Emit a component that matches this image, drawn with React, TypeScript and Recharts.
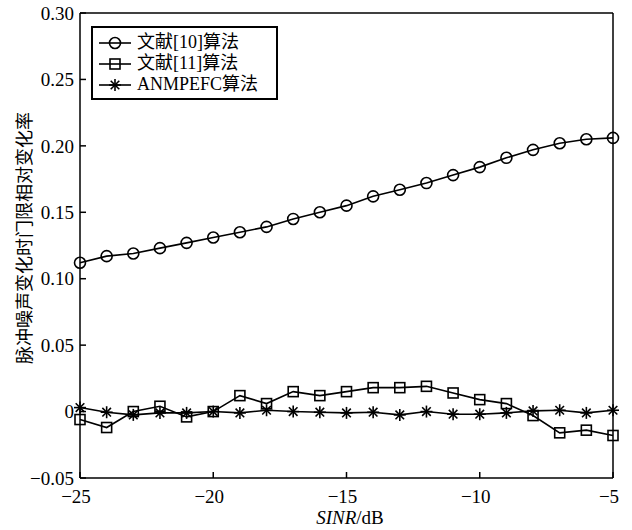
import React from 'react';
import { LineChart, Line, XAxis, YAxis, ReferenceLine } from 'recharts';

const snr = [-25, -24, -23, -22, -21, -20, -19, -18, -17, -16, -15, -14, -13, -12, -11, -10, -9, -8, -7, -6, -5];
const ref10 = [0.112, 0.117, 0.119, 0.123, 0.127, 0.131, 0.135, 0.139, 0.145, 0.150, 0.155, 0.162, 0.167, 0.172, 0.178, 0.184, 0.191, 0.197, 0.202, 0.205, 0.206];
const ref11 = [-0.006, -0.012, 0.000, 0.004, -0.004, 0.000, 0.012, 0.006, 0.015, 0.012, 0.015, 0.018, 0.018, 0.019, 0.014, 0.009, 0.006, -0.003, -0.016, -0.014, -0.018];
const anmpefc = [0.003, -0.0005, -0.0025, -0.001, -0.001, 0.000, -0.001, 0.001, 0.000, -0.0005, -0.001, -0.0005, -0.0025, 0.000, -0.002, -0.002, -0.001, 0.0005, 0.001, -0.001, 0.001];

const xTicks = [-25, -20, -15, -10, -5];
const yTicks = [-0.05, 0, 0.05, 0.1, 0.15, 0.2, 0.25, 0.3];
const seriesNames = ['文献[10]算法', '文献[11]算法', 'ANMPEFC算法'];

const data = snr.map((s, i) => ({ snr: s, a: ref10[i], b: ref11[i], c: anmpefc[i] }));

const FONT = '"Liberation Serif", "Noto Sans CJK SC", serif';
const CJK = '"Noto Sans CJK SC", sans-serif';

const fmtX = (v: number) => (v < 0 ? '\u2212' + Math.abs(v) : String(v));
const fmtY = (v: number) => {
  if (v === 0) return '0';
  const s = Math.abs(v).toFixed(2);
  return v < 0 ? '\u2212' + s : s;
};

const XTick = (props: any) => {
  const { x, y, payload } = props;
  return (
    <g>
      <line x1={x} y1={y} x2={x} y2={y - 6} stroke="#000" strokeWidth={1.5} />
      <text x={x - 4} y={y + 25} textAnchor="middle" fontFamily={FONT} fontSize={19} fill="#000">
        {fmtX(payload.value)}
      </text>
    </g>
  );
};

const YTick = (props: any) => {
  const { x, y, payload } = props;
  return (
    <g>
      <line x1={x} y1={y} x2={x + 6} y2={y} stroke="#000" strokeWidth={1.5} />
      <text x={x - 6} y={y} dy="0.35em" textAnchor="end" fontFamily={FONT} fontSize={19} fill="#000">
        {fmtY(payload.value)}
      </text>
    </g>
  );
};

const circleShape = (cx: number, cy: number, key?: any) => (
  <circle key={key} cx={cx} cy={cy} r={5.5} fill="none" stroke="#000" strokeWidth={1.6} />
);
const squareShape = (cx: number, cy: number, key?: any) => (
  <rect key={key} x={cx - 5} y={cy - 5} width={10} height={10} fill="none" stroke="#000" strokeWidth={1.6} />
);
const starShape = (cx: number, cy: number, key?: any) => (
  <g key={key} stroke="#000" strokeWidth={1.6}>
    <line x1={cx - 6} y1={cy} x2={cx + 6} y2={cy} />
    <line x1={cx} y1={cy - 6} x2={cx} y2={cy + 6} />
    <line x1={cx - 4.3} y1={cy - 4.3} x2={cx + 4.3} y2={cy + 4.3} />
    <line x1={cx - 4.3} y1={cy + 4.3} x2={cx + 4.3} y2={cy - 4.3} />
  </g>
);
const shapes = [circleShape, squareShape, starShape];

const makeDot = (fn: typeof circleShape) => (p: any) => fn(p.cx, p.cy, p.key ?? `${p.index}`);

// legend sits over the plot, outside recharts' layout so it takes no space
const LegendBox = () => (
  <div
    style={{
      position: 'absolute',
      left: 91,
      top: 26,
      border: '2px solid #000',
      background: '#fff',
      width: 187,
      height: 74,
      boxSizing: 'border-box',
      paddingTop: 4,
    }}
  >
    {seriesNames.map((n, i) => (
      <div key={n} style={{ display: 'flex', alignItems: 'center', height: 21, paddingLeft: 6 }}>
        <svg width={32} height={16} style={{ flex: 'none' }}>
          <line x1={0} y1={8} x2={32} y2={8} stroke="#000" strokeWidth={1.6} />
          {shapes[i](16, 8)}
        </svg>
        <span style={{ fontFamily: FONT, fontSize: 18, color: '#000', marginLeft: 6, lineHeight: '21px' }}>{n}</span>
      </div>
    ))}
  </div>
);

export default function App() {
  return (
    <div style={{ position: 'absolute', left: 0, top: 0, width: 632, height: 530, background: '#fff' }}>
      <LineChart width={632} height={530} data={data} margin={{ top: 13, right: 19, bottom: 0, left: 0 }}>
        <XAxis
          dataKey="snr"
          type="number"
          domain={[-25, -5]}
          ticks={xTicks}
          tickSize={0}
          tickMargin={0}
          tick={<XTick />}
          height={52}
          axisLine={{ stroke: '#000', strokeWidth: 1.5 }}
          tickLine={false}
          label={{
            content: () => (
              <text x={350} y={524} textAnchor="middle" fontFamily={FONT} fontSize={19} fill="#000">
                <tspan fontStyle="italic">SINR</tspan>
                <tspan>/dB</tspan>
              </text>
            ),
          }}
        />
        <YAxis
          type="number"
          domain={[-0.05, 0.3]}
          ticks={yTicks}
          tickSize={0}
          tickMargin={0}
          tick={<YTick />}
          width={80}
          axisLine={{ stroke: '#000', strokeWidth: 1.5 }}
          tickLine={false}
          label={{
            content: () => (
              <text
                x={25}
                y={238}
                transform="rotate(-90 25 238)"
                textAnchor="middle"
                dy="0.35em"
                fontFamily={CJK}
                fontSize={18}
                fill="#000"
              >
                脉冲噪声变化时门限相对变化率
              </text>
            ),
          }}
        />
        <ReferenceLine y={0.3} stroke="#000" strokeWidth={1.5} />
        <ReferenceLine x={-5} stroke="#000" strokeWidth={1.5} />
        <Line dataKey="a" name={seriesNames[0]} stroke="#000" strokeWidth={1.6} dot={makeDot(circleShape)} activeDot={false} isAnimationActive={false} />
        <Line dataKey="b" name={seriesNames[1]} stroke="#000" strokeWidth={1.6} dot={makeDot(squareShape)} activeDot={false} isAnimationActive={false} />
        <Line dataKey="c" name={seriesNames[2]} stroke="#000" strokeWidth={1.6} dot={makeDot(starShape)} activeDot={false} isAnimationActive={false} />
      </LineChart>
      <LegendBox />
    </div>
  );
}
